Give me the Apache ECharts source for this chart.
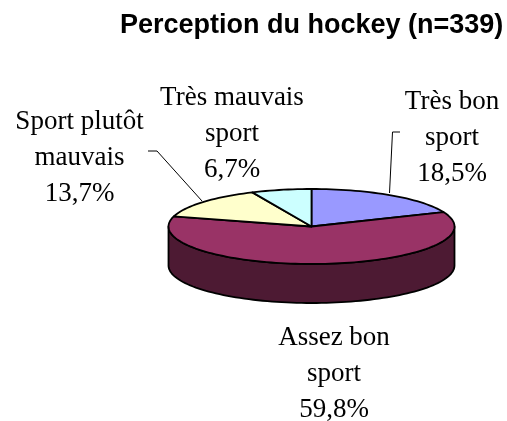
<!DOCTYPE html>
<html>
<head>
<meta charset="utf-8">
<style>html,body{margin:0;padding:0;background:#fff}#c{width:507px;height:421px}</style>
<script src="https://cdn.jsdelivr.net/npm/echarts@6/dist/echarts.min.js"></script>
</head>
<body>
<div id="c"></div>
<script>
var categories = ['Très bon\nsport', 'Assez bon\nsport', 'Sport plutôt\nmauvais', 'Très mauvais\nsport'];
var values = [18.5, 59.8, 13.7, 6.7];
var topColors = ['#9999FF', '#993366', '#FFFFCC', '#CCFFFF'];
var sideColors = ['#4D4D80', '#4D1A33', '#808066', '#668080'];
var labelCenters = [[452, 138], [334, 374], [79.5, 158], [232, 134]];

var CX = 311.5, CY = 226.5, RX = 143, RY = 37.5, DEPTH = 39;
var total = values.reduce(function (a, b) { return a + b; }, 0);

function pt(deg, dy) {
  var r = deg * Math.PI / 180;
  return [CX + RX * Math.sin(r), CY - RY * Math.cos(r) + (dy || 0)];
}
function arc(a0, a1, dy) {
  var pts = [], n = Math.max(2, Math.ceil((a1 - a0) / 2));
  for (var i = 0; i <= n; i++) pts.push(pt(a0 + (a1 - a0) * i / n, dy));
  return pts;
}

function renderItem(params, api) {
  var idx = params.dataIndex;
  var before = 0;
  for (var i = 0; i < idx; i++) before += values[i];
  var a0 = before / total * 360;
  var a1 = a0 + api.value(0) / total * 360;
  var kids = [];
  var s0 = Math.max(a0, 90), s1 = Math.min(a1, 270);
  if (s1 > s0) {
    kids.push({
      type: 'polygon', z2: 1,
      shape: { points: arc(s0, s1, 0).concat(arc(s0, s1, DEPTH).reverse()) },
      style: { fill: sideColors[idx], stroke: '#000', lineWidth: 1.8, lineJoin: 'round' }
    });
  }
  kids.push({
    type: 'polygon', z2: 2 ,
    shape: { points: [[CX, CY]].concat(arc(a0, a1, 0)) },
    style: { fill: topColors[idx], stroke: '#000', lineWidth: 1.8, lineJoin: 'round' }
  });
  kids.push({
    type: 'text', z2: 3,
    style: {
      x: labelCenters[idx][0], y: labelCenters[idx][1],
      text: categories[idx] + '\n' + api.value(0).toFixed(1).replace('.', ',') + '%',
      fill: '#000', font: '27px "Liberation Serif"', lineHeight: 36,
      align: 'center', verticalAlign: 'middle'
    }
  });
  return { type: 'group', children: kids };
}

var chart = echarts.init(document.getElementById('c'), null, { renderer: 'canvas' });
chart.setOption({
  animation: false,
  backgroundColor: '#fff',
  title: {
    text: 'Perception du hockey (n=339)', left: 115, top: 7,
    textStyle: { fontFamily: 'Liberation Sans', fontWeight: 'bold', fontSize: 27, color: '#000' }
  },
  series: [{
    type: 'custom', coordinateSystem: 'none', silent: true,
    renderItem: renderItem,
    data: values.map(function (v) { return [v]; })
  }],
  graphic: [
    { type: 'polyline', silent: true, z: 5, shape: { points: [[148, 151], [157, 151], [202, 201]] },
      style: { stroke: '#000', lineWidth: 1, fill: null } },
    { type: 'polyline', silent: true, z: 5, shape: { points: [[400, 132], [392.5, 132], [389.5, 193]] },
      style: { stroke: '#000', lineWidth: 1, fill: null } }
  ]
});
</script>
</body>
</html>
